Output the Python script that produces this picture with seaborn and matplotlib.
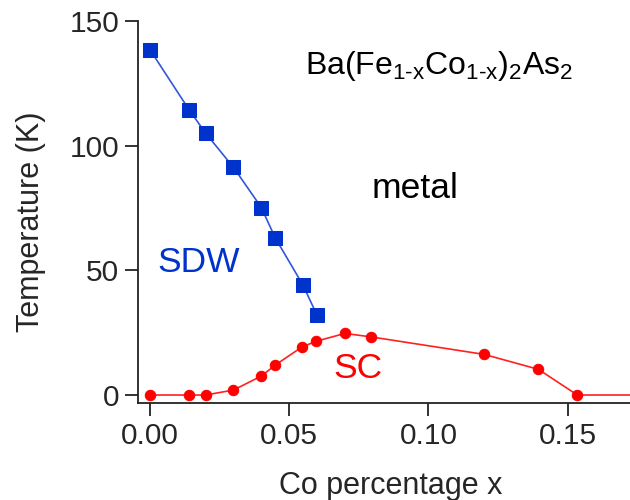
import matplotlib
matplotlib.use("Agg")
import matplotlib.pyplot as plt
import seaborn as sns

sns.set_style("ticks")
plt.rcParams['font.family'] = ['Liberation Sans', 'DejaVu Sans']
plt.rcParams['mathtext.fontset'] = 'custom'
plt.rcParams['mathtext.rm'] = 'Liberation Sans'

# SDW transition (blue squares)
sdw_x = [0.0, 0.014, 0.020, 0.030, 0.040, 0.045, 0.055, 0.060]
sdw_t = [138.5, 114.5, 105, 91.3, 75.2, 63, 44, 32]

# SC transition (red circles)
sc_x = [0.0, 0.014, 0.020, 0.030, 0.040, 0.045, 0.0545, 0.0595, 0.070, 0.0795, 0.120, 0.1395, 0.1535, 0.20]
sc_t = [0, 0, 0, 2, 7.6, 12, 19.2, 21.5, 24.7, 23.3, 16.3, 10.3, 0, 0]

xticks = [0.0, 0.05, 0.10, 0.15]
yticks = [0, 50, 100, 150]

fig = plt.figure(figsize=(6.3, 5.0), dpi=100)
ax = fig.add_axes([0.219, 0.194, 0.781, 0.764])

sns.lineplot(x=sdw_x, y=sdw_t, ax=ax, sort=False, color='#3355dd', lw=1.2,
             marker='s', markersize=9.5, markerfacecolor='#0033cc',
             markeredgecolor='#0033cc')
sns.lineplot(x=sc_x, y=sc_t, ax=ax, sort=False, color='#ff2020', lw=1.2,
             marker='o', markersize=7.5, markerfacecolor='#ff0000',
             markeredgecolor='#ff0000')

ax.set_xlim(-0.0043, 0.1724)
ax.set_ylim(-3.2, 150)
ax.set_xticks(xticks)
ax.set_xticklabels([f"{v:.2f}" for v in xticks])
ax.set_yticks(yticks)

for side in ['top', 'right']:
    ax.spines[side].set_visible(False)
for side in ['left', 'bottom']:
    ax.spines[side].set_color('#222222')
    ax.spines[side].set_linewidth(1.3)
ax.tick_params(axis='both', direction='out', length=9.5, width=1.3,
               color='#222222', labelsize=21.5, pad=4)

ax.set_xlabel("Co percentage x", fontsize=22)
ax.set_ylabel("Temperature (K)", fontsize=22)
ax.xaxis.set_label_coords(0.514, -0.177)
ax.yaxis.set_label_coords(-0.186, 0.475)

ax.text(0.0557, 132, r'Ba(Fe$_{\text{1-x}}$Co$_{\text{1-x}}$)$_{\text{2}}$As$_{\text{2}}$',
        fontsize=23, ha='left', va='center', color='black')
ax.text(0.0952, 83, "metal", fontsize=25.5, ha='center', va='center', color='black')
ax.text(0.0176, 53.3, "SDW", fontsize=25.5, ha='center', va='center', color='#0033cc')
ax.text(0.0747, 10.8, "SC", fontsize=25.5, ha='center', va='center', color='#ff0000')

fig.savefig("out.png", dpi=100)
